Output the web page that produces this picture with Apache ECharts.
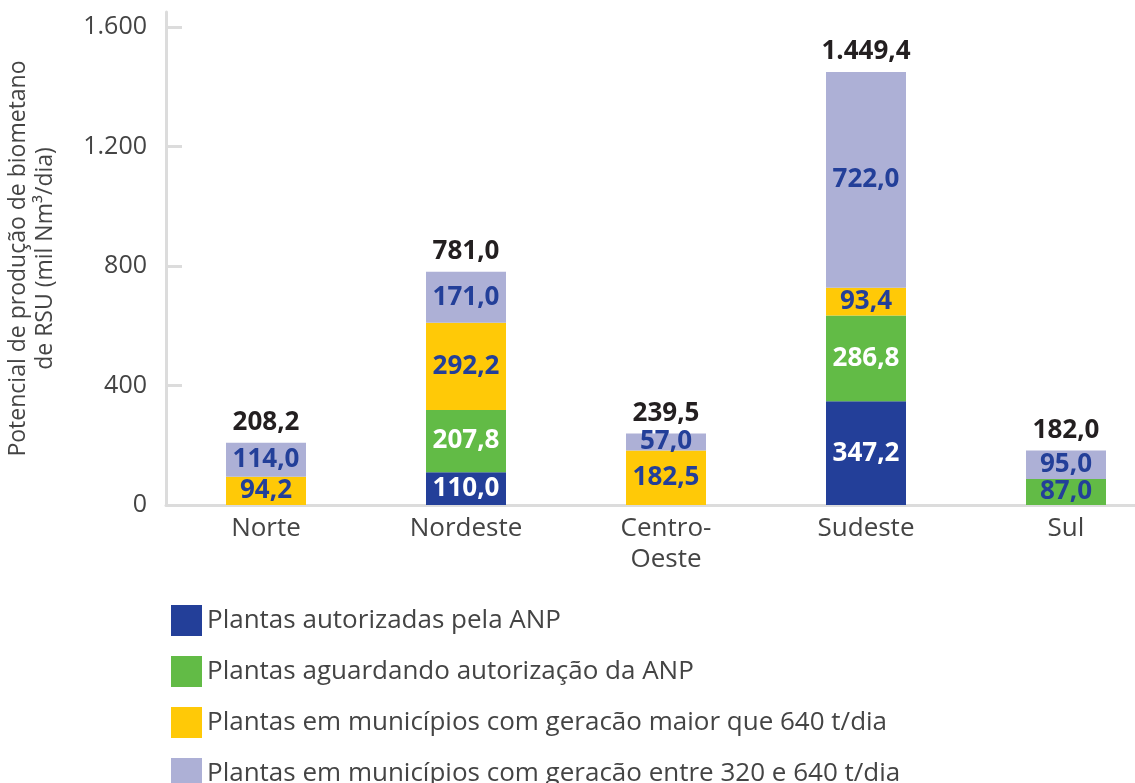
<!DOCTYPE html>
<html>
<head>
<meta charset="utf-8">
<script src="https://cdn.jsdelivr.net/npm/echarts@6/dist/echarts.min.js"></script>
<style>
  html, body { margin: 0; padding: 0; background: #fff; }
  #chart { width: 1135px; height: 783px; }
</style>
</head>
<body>
<div id="chart"></div>
<script>
// categorias e séries (mil Nm3/dia)
const regioes = ['Norte', 'Nordeste', 'Centro-\nOeste', 'Sudeste', 'Sul'];
const autorizadas = [0, 110.0, 0, 347.2, 0];
const aguardando = [0, 207.8, 0, 286.8, 87.0];
const maior640 = [94.2, 292.2, 182.5, 93.4, 0];
const entre320 = [114.0, 171.0, 57.0, 722.0, 95.0];
const yTicks = [0, 400, 800, 1200, 1600];

const nomes = [
  'Plantas autorizadas pela ANP',
  'Plantas aguardando autorização da ANP',
  'Plantas em municípios com geracão maior que 640 t/dia',
  'Plantas em municípios com geracão entre 320 e 640 t/dia'
];

const FONT = 'Open Sans';
const AZUL = '#233f99';
const CINZA = '#444';

// formato brasileiro: 1.449,4
function fmt(v, dec) {
  let s = v.toFixed(dec).split('.');
  s[0] = s[0].replace(/\B(?=(\d{3})+(?!\d))/g, '.');
  return s.length > 1 ? s[0] + ',' + s[1] : s[0];
}

const totais = regioes.map((r, i) => autorizadas[i] + aguardando[i] + maior640[i] + entre320[i]);

function serie(name, data, color, labelColors) {
  return {
    name: name,
    type: 'bar',
    stack: 'total',
    barWidth: 80,
    itemStyle: { color: color },
    data: data.map((v, i) => ({
      value: v,
      label: { color: labelColors[i] }
    })),
    label: {
      show: true,
      position: 'inside',
      fontFamily: FONT,
      fontWeight: 'bold',
      fontSize: 26,
      formatter: p => p.value ? fmt(p.value, 1) : ''
    }
  };
}

const chart = echarts.init(document.getElementById('chart'));
chart.setOption({
  animation: false,
  textStyle: { fontFamily: FONT },
  // o eixo x continua além da borda direita
  grid: { left: 166, top: 12, width: 1000, bottom: 278, outerBoundsMode: 'none', containLabel: false },
  legend: {
    data: nomes,
    orient: 'vertical',
    left: 166,
    top: 600,
    height: 260,
    itemWidth: 31,
    itemHeight: 31,
    itemGap: 20,
    icon: 'rect',
    textStyle: { fontFamily: FONT, fontSize: 26, color: CINZA }
  },
  xAxis: {
    type: 'category',
    data: regioes,
    axisLine: { lineStyle: { color: '#dcdcdc', width: 3 } },
    axisTick: { show: false },
    axisLabel: { fontFamily: FONT, fontSize: 26, color: CINZA, margin: 8, lineHeight: 31 }
  },
  yAxis: {
    type: 'value',
    min: 0,
    max: 1650,
    name: 'Potencial de produção de biometano\nde RSU (mil Nm³/dia)',
    nameLocation: 'middle',
    nameGap: 107,
    nameTextStyle: { fontFamily: FONT, fontSize: 23, color: CINZA, lineHeight: 27 },
    splitLine: { show: false },
    axisLine: { show: true, lineStyle: { color: '#dcdcdc', width: 3 } },
    axisTick: { show: true, inside: true, length: 16, customValues: yTicks, lineStyle: { color: '#dcdcdc', width: 3 } },
    axisLabel: {
      customValues: yTicks,
      fontFamily: FONT, fontSize: 25, color: CINZA, margin: 19,
      formatter: v => fmt(v, 0)
    }
  },
  series: [
    serie(nomes[0], autorizadas, AZUL, ['#fff', '#fff', '#fff', '#fff', '#fff']),
    serie(nomes[1], aguardando, '#62bb46', ['#fff', '#fff', '#fff', '#fff', AZUL]),
    serie(nomes[2], maior640, '#ffc907', [AZUL, AZUL, AZUL, AZUL, AZUL]),
    serie(nomes[3], entre320, '#adb0d6', [AZUL, AZUL, AZUL, AZUL, AZUL]),
    {
      name: 'total',
      type: 'bar',
      barWidth: 80,
      barGap: '-100%',
      silent: true,
      z: 1,
      itemStyle: { color: 'transparent' },
      data: totais,
      label: {
        show: true,
        position: 'top',
        distance: 7,
        fontFamily: FONT,
        fontWeight: 'bold',
        fontSize: 26,
        color: '#231f20',
        formatter: p => fmt(p.value, 1)
      }
    }
  ]
});
</script>
</body>
</html>
